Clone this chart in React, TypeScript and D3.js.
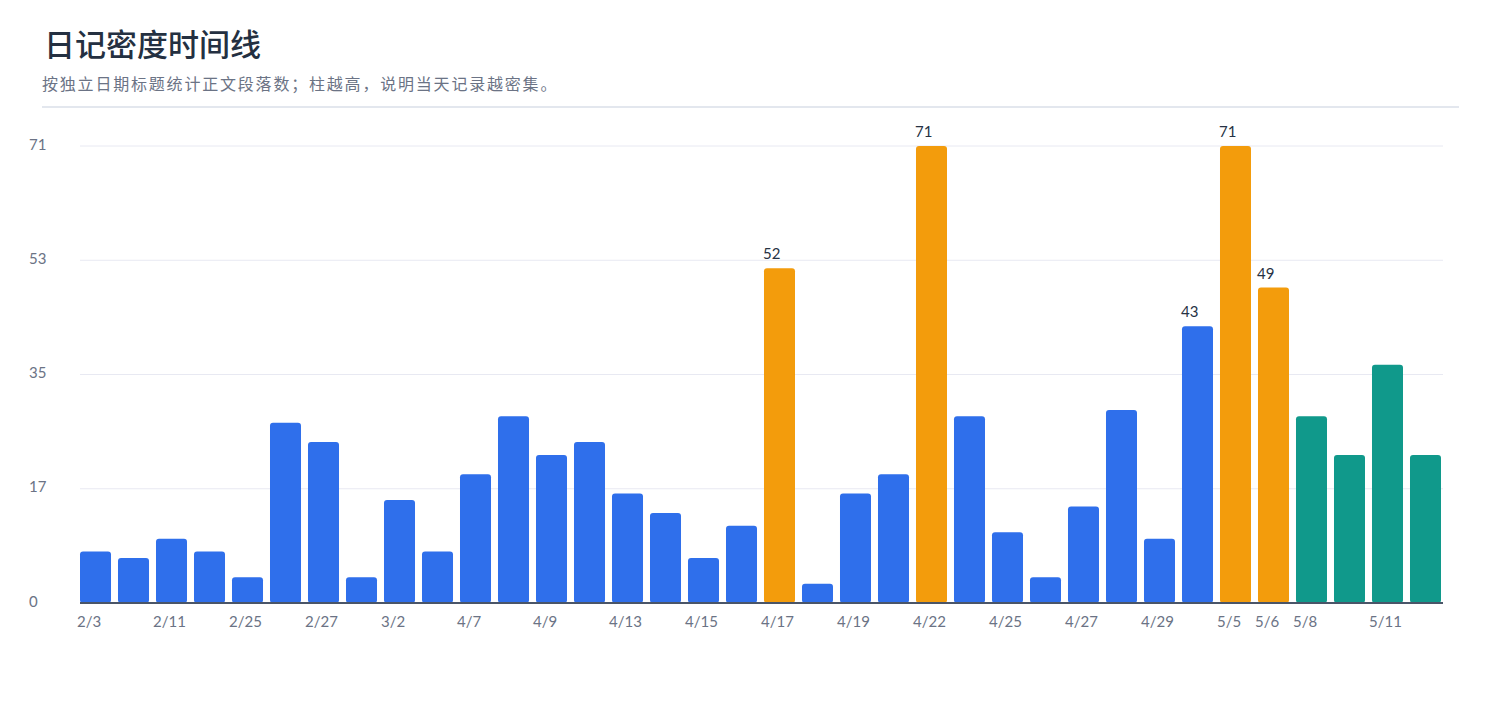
import * as d3 from "d3";

// one bar per dated heading (paragraph count)
const dates = [
  "2/3", "2/8", "2/11", "2/19", "2/25", "2/26", "2/27", "2/28", "3/2", "4/6",
  "4/7", "4/8", "4/9", "4/12", "4/13", "4/14", "4/15", "4/16", "4/17", "4/18",
  "4/19", "4/21", "4/22", "4/23", "4/25", "4/26", "4/27", "4/28", "4/29", "4/30",
  "5/5", "5/6", "5/8", "5/10", "5/11", "5/12",
];
const paragraphs = [
  8, 7, 10, 8, 4, 28, 25, 4, 16, 8,
  20, 29, 23, 25, 17, 14, 7, 12, 52, 3,
  17, 20, 71, 29, 11, 4, 15, 30, 10, 43,
  71, 49, 29, 23, 37, 23,
];
const peakDates = ["4/17", "4/22", "5/5", "5/6"];
const recentDates = ["5/8", "5/10", "5/11", "5/12"];
const labeledDates = ["4/17", "4/22", "4/30", "5/5", "5/6"];
const xTickLabels = [
  "2/3", "2/11", "2/25", "2/27", "3/2", "4/7", "4/9", "4/13", "4/15", "4/17",
  "4/19", "4/22", "4/25", "4/27", "4/29", "5/5", "5/6", "5/8", "5/11",
];
const yTicks = [0, 17.75, 35.5, 53.25, 71];

const width = 1500;
const height = 720;
const marginLeft = 80;
const marginRight = 57;
const marginTop = 146;
const baseline = 603;

const numFont = "Lato, 'Noto Sans CJK SC', sans-serif";
const cjkFont = "'Noto Sans CJK SC', 'Noto Sans', sans-serif";

function barColor(d: string) {
  if (peakDates.includes(d)) return "#F39C0C";
  if (recentDates.includes(d)) return "#10998B";
  return "#2F6FEB";
}

export default function App() {
  const x = d3.scaleBand<string>()
    .domain(dates)
    .range([marginLeft, width - marginRight - 2])
    .paddingInner(0.184)
    .paddingOuter(0);
  const y = d3.scaleLinear([0, 71], [baseline, marginTop]);

  return (
    <svg
      width={width}
      height={height}
      style={{ position: "absolute", left: 0, top: 0, background: "#fff" }}
    >
      <text x={44} y={56} fontFamily={cjkFont} fontSize={31} fontWeight={500} fill="#243041">
        日记密度时间线
      </text>
      <text x={42} y={90} fontFamily={cjkFont} fontSize={16} fill="#6b7385" letterSpacing={1.8}>
        按独立日期标题统计正文段落数；柱越高，说明当天记录越密集。
      </text>
      <line x1={42} x2={1459} y1={107} y2={107} stroke="#e3e7ee" strokeWidth={2} />

      {yTicks.map((t) => (
        <g key={t}>
          <line x1={marginLeft} x2={width - marginRight} y1={y(t)} y2={y(t)} stroke="#e8e9f2" strokeWidth={1} />
          <text x={29} y={y(t) + 3.5} fontFamily={numFont} fontSize={15} fill="#6b7385">
            {Math.floor(t)}
          </text>
        </g>
      ))}

      {dates.map((d, i) => (
        <rect
          key={d}
          x={x(d)}
          y={y(paragraphs[i])}
          width={x.bandwidth()}
          height={baseline - y(paragraphs[i])}
          rx={3}
          fill={barColor(d)}
        />
      ))}

      {dates.map((d, i) =>
        labeledDates.includes(d) ? (
          <text
            key={"v" + d}
            x={(x(d) ?? 0) - 1}
            y={y(paragraphs[i]) - 9}
            fontFamily={numFont}
            fontSize={15}
            fill="#263244"
          >
            {paragraphs[i]}
          </text>
        ) : null
      )}

      <line x1={marginLeft} x2={width - marginRight} y1={baseline} y2={baseline} stroke="#4a5568" strokeWidth={2} />

      {xTickLabels.map((d) => (
        <text key={"t" + d} x={(x(d) ?? 0) - 3} y={627} fontFamily={numFont} fontSize={15} fill="#6b7385">
          {d}
        </text>
      ))}
    </svg>
  );
}
